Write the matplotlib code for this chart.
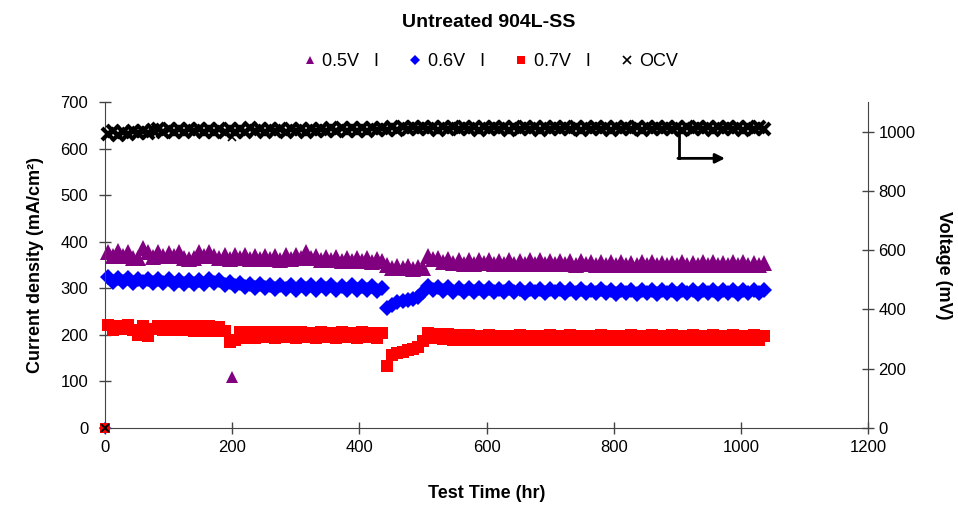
import numpy as np
import matplotlib
matplotlib.use("Agg")
import matplotlib.pyplot as plt
from matplotlib.lines import Line2D

plt.rcParams['font.family'] = ['Liberation Sans', 'DejaVu Sans']

# sampling times of the logged points (hr)
hours = np.arange(4, 1040, 8)

# current density at 0.5 V (mA/cm2)
i_05 = [378, 370, 379, 369, 377, 366, 364, 386, 378, 368,
        377, 369, 376, 370, 378, 366, 362, 366, 377, 369,
        378, 370, 364, 371, 362, 372, 364, 371, 363, 370,
        362, 369, 362, 370, 361, 371, 363, 371, 364, 377,
        364, 370, 360, 368, 361, 367, 359, 366, 359, 365,
        358, 364, 357, 362, 358, 349, 344, 348, 343, 347,
        342, 346, 343, 370, 363, 366, 356, 362, 354, 361,
        353, 360, 352, 361, 354, 360, 352, 359, 353, 360,
        353, 359, 352, 360, 353, 360, 352, 359, 353, 359,
        352, 358, 351, 359, 352, 357, 350, 356, 350, 356,
        349, 356, 350, 355, 349, 356, 350, 356, 349, 355,
        350, 355, 349, 356, 350, 355, 349, 356, 350, 356,
        349, 355, 350, 356, 349, 356, 350, 355, 350, 355]

# current density at 0.6 V (mA/cm2)
i_06 = [324, 314, 323, 313, 322, 312, 321, 313, 320, 311,
        319, 311, 320, 310, 318, 309, 317, 310, 318, 309,
        320, 311, 318, 308, 313, 304, 311, 302, 310, 301,
        309, 300, 308, 299, 307, 298, 306, 297, 307, 298,
        306, 297, 307, 298, 306, 297, 305, 296, 306, 297,
        305, 296, 304, 295, 301, 258, 265, 270, 272, 275,
        277, 282, 292, 304, 296, 303, 294, 302, 293, 301,
        292, 301, 293, 300, 291, 300, 292, 299, 291, 300,
        292, 299, 290, 299, 291, 298, 290, 299, 291, 298,
        290, 298, 289, 298, 290, 297, 289, 298, 290, 297,
        288, 297, 289, 296, 288, 297, 289, 296, 288, 297,
        289, 296, 288, 297, 289, 296, 288, 297, 289, 296,
        288, 297, 289, 296, 288, 297, 289, 296, 289, 296]

# current density at 0.7 V (mA/cm2)
i_07 = [221, 211, 220, 212, 221, 211, 200, 219, 198, 212,
        220, 210, 219, 210, 220, 210, 219, 209, 218, 209,
        218, 209, 217, 208, 184, 190, 206, 194, 207, 193,
        206, 195, 207, 194, 206, 196, 207, 193, 206, 195,
        205, 194, 207, 196, 205, 194, 206, 195, 205, 194,
        206, 195, 205, 194, 204, 134, 156, 161, 164, 167,
        170, 174, 186, 203, 193, 202, 191, 201, 190, 200,
        189, 199, 190, 198, 188, 199, 189, 198, 188, 198,
        188, 199, 189, 198, 188, 198, 189, 200, 189, 198,
        188, 199, 189, 198, 188, 198, 189, 199, 189, 198,
        188, 198, 189, 199, 189, 198, 188, 199, 189, 198,
        188, 199, 189, 198, 189, 199, 189, 198, 188, 199,
        189, 198, 189, 199, 189, 198, 189, 199, 189, 198]

# open circuit voltage (mV)
ocv = [992, 1001, 990, 1000, 993, 1002, 994, 1003, 996, 1004,
       1010, 1000, 1008, 999, 1009, 1000, 1010, 1001, 1009, 1000,
       1010, 1000, 1009, 999, 1008, 999, 1009, 1000, 1011, 1001,
       1010, 1000, 1009, 1001, 1010, 1000, 1009, 1001, 1010, 1000,
       1009, 1001, 1010, 1002, 1011, 1002, 1011, 1003, 1012, 1003,
       1012, 1003, 1013, 1004, 1013, 1005, 1015, 1007, 1016, 1008,
       1016, 1008, 1015, 1008, 1016, 1007, 1016, 1008, 1015, 1008,
       1016, 1008, 1015, 1007, 1016, 1008, 1016, 1008, 1015, 1007,
       1016, 1008, 1015, 1008, 1016, 1007, 1016, 1008, 1015, 1008,
       1016, 1008, 1015, 1007, 1016, 1008, 1016, 1008, 1015, 1007,
       1016, 1008, 1015, 1008, 1016, 1007, 1016, 1008, 1015, 1008,
       1016, 1008, 1015, 1007, 1016, 1008, 1016, 1008, 1015, 1007,
       1016, 1008, 1015, 1008, 1016, 1007, 1016, 1008, 1015, 1008]

# start point (everything at zero) and the stray readings at 200 hr
start_hr = 0
start_val = 0
stray_hr = 200
stray_05 = 110
stray_ocv = 983

purple = '#800080'
blue = '#0000FF'
red = '#FF0000'

fig = plt.figure(figsize=(9.58, 5.05), dpi=100)
ax = fig.add_axes([0.1096, 0.1525, 0.7965, 0.6455])
ax2 = ax.twinx()

ax.plot(hours, i_05, '^', color=purple, ms=11, mew=0, clip_on=False)
ax.plot(hours, i_06, 'D', color=blue, ms=8.5, mew=0, clip_on=False)
ax.plot(hours, i_07, 's', color=red, ms=8.5, mew=0, clip_on=False)
ax.plot([stray_hr], [stray_05], '^', color=purple, ms=8, mew=0)
ax.plot([start_hr], [start_val], '^', color=purple, ms=6, mew=0, clip_on=False)
ax.plot([start_hr], [start_val], 'D', color=blue, ms=6, mew=0, clip_on=False)
ax.plot([start_hr], [start_val], 's', color=red, ms=7, mew=0, clip_on=False, zorder=4)

ax2.plot(hours, ocv, 'x', color='black', ms=8, mew=3, clip_on=False)
ax2.plot([stray_hr], [stray_ocv], 'x', color='black', ms=6, mew=1.2)
ax2.plot([start_hr], [start_val], 'x', color='black', ms=6, mew=1.4, clip_on=False)

# arrow pointing OCV to the right axis
ax.plot([902, 902], [637, 579], color='black', lw=2)
ax.annotate('', xy=(975, 579), xytext=(901, 579),
            arrowprops=dict(arrowstyle='-|>', color='black', lw=2, mutation_scale=14,
                            shrinkA=0, shrinkB=0))

ax.set_xlim(0, 1200)
ax.set_ylim(0, 700)
ax2.set_ylim(0, 1100)
ax.set_xticks(range(0, 1201, 200))
ax.set_yticks(range(0, 701, 100))
ax2.set_yticks(range(0, 1001, 200))

for a in (ax, ax2):
    a.spines['top'].set_visible(False)
    a.tick_params(direction='inout', length=8, width=1, labelsize=12, color='#444444')
    for s in a.spines.values():
        s.set_color('#444444')
ax.spines['right'].set_visible(False)
ax2.spines['left'].set_visible(False)
ax2.spines['bottom'].set_visible(False)
ax.tick_params(axis='x', pad=5)
ax.tick_params(axis='y', pad=8)

ax.set_xlabel('Test Time (hr)', fontsize=13, fontweight='bold', labelpad=21)
ax.set_ylabel('Current density (mA/cm²)', fontsize=13, fontweight='bold', labelpad=12)
ax2.set_ylabel('Voltage (mV)', fontsize=13, fontweight='bold', rotation=270, labelpad=26)

fig.text(0.51, 0.955, 'Untreated 904L-SS', ha='center', va='center', fontsize=14, fontweight='bold')

handles = [
    Line2D([], [], ls='', marker='^', color=purple, ms=6, mew=0),
    Line2D([], [], ls='', marker='D', color=blue, ms=5, mew=0),
    Line2D([], [], ls='', marker='s', color=red, ms=6, mew=0),
    Line2D([], [], ls='', marker='x', color='black', ms=6, mew=1.2),
]
labels = ['0.5V   I', '0.6V   I', '0.7V   I', 'OCV']
fig.legend(handles, labels, loc='center', bbox_to_anchor=(0.512, 0.878), ncol=4, frameon=False,
           fontsize=13, handlelength=0.8, handletextpad=0.3, columnspacing=1.6)

fig.savefig('out.png', dpi=100)
